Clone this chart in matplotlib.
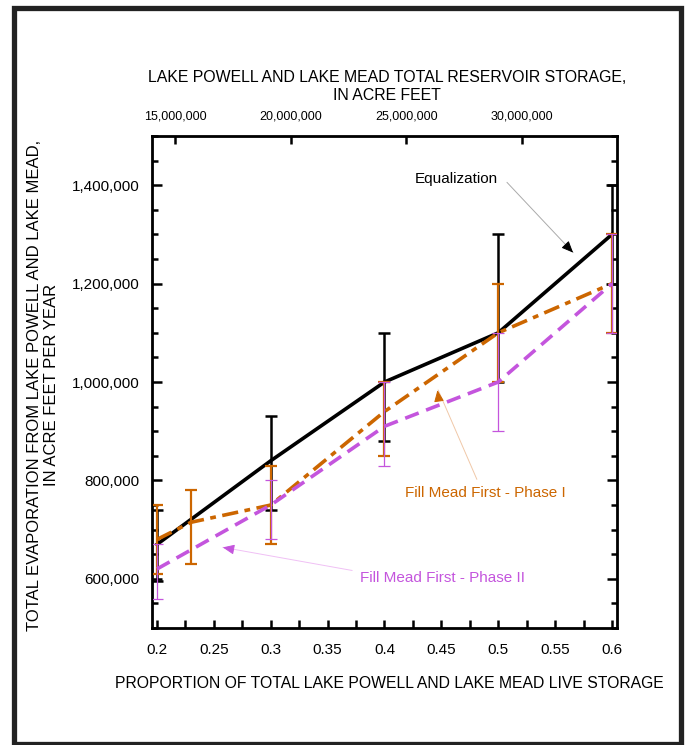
import numpy as np
import matplotlib.pyplot as plt
from matplotlib.patches import Rectangle
from matplotlib.ticker import MultipleLocator, FuncFormatter

plt.rcParams['font.family'] = ['Liberation Sans', 'DejaVu Sans']

# Equalization
eq_x = [0.2, 0.3, 0.4, 0.5, 0.6]
eq_y = [670000, 840000, 1000000, 1100000, 1300000]
eq_lo = [595000, 740000, 880000, 1000000, 1200000]
eq_hi = [740000, 930000, 1100000, 1300000, 1400000]

# Fill Mead First - Phase I
p1_x = [0.2, 0.23, 0.3, 0.4, 0.5, 0.6]
p1_y = [680000, 715000, 750000, 940000, 1100000, 1200000]
p1_lo = [610000, 630000, 670000, 850000, 1000000, 1100000]
p1_hi = [750000, 780000, 830000, 1000000, 1200000, 1300000]

# Fill Mead First - Phase II
p2_x = [0.2, 0.3, 0.4, 0.5, 0.6]
p2_y = [620000, 750000, 910000, 1000000, 1200000]
p2_lo = [560000, 680000, 830000, 900000, 1100000]
p2_hi = [670000, 800000, 1000000, 1100000, 1300000]

top_ticks = [15000000, 20000000, 25000000, 30000000]

BLACK = '#000000'
ORANGE = '#CC6600'
PURPLE = '#C455DD'


def err(y, lo, hi):
    y = np.array(y)
    return [y - np.array(lo), np.array(hi) - y]


fig = plt.figure(figsize=(6.85, 7.45), dpi=100)
ax = fig.add_axes([0.2219, 0.1570, 0.6788, 0.6604])

ax.errorbar(eq_x, eq_y, yerr=err(eq_y, eq_lo, eq_hi), color=BLACK, lw=2.6,
            elinewidth=1.8, capsize=4, capthick=1.8, zorder=3)
ax.errorbar(p1_x, p1_y, yerr=err(p1_y, p1_lo, p1_hi), color=ORANGE, lw=2.6,
            elinewidth=1.6, capsize=4, capthick=1.6, zorder=4,
            dashes=(4.5, 1.8, 1.6, 1.8))
ax.errorbar(p2_x, p2_y, yerr=err(p2_y, p2_lo, p2_hi), color=PURPLE, lw=2.6,
            elinewidth=0.9, capsize=4, capthick=0.9, zorder=5,
            dashes=(4, 2.2))

ax.set_xlim(0.1956, 0.6044)
ax.set_ylim(500000, 1500000)
ax.xaxis.set_major_locator(MultipleLocator(0.05))
ax.xaxis.set_minor_locator(MultipleLocator(0.025))
ax.yaxis.set_major_locator(MultipleLocator(200000))
ax.yaxis.set_minor_locator(MultipleLocator(50000))
ax.xaxis.set_major_formatter(FuncFormatter(lambda v, p: ('%.2f' % v).rstrip('0')))
ax.yaxis.set_major_formatter(FuncFormatter(lambda v, p: '{:,.0f}'.format(v)))
ax.tick_params(which='both', direction='in', right=True, width=1.8, labelsize=11)
ax.tick_params(which='major', length=7)
ax.tick_params(which='minor', length=4)
ax.tick_params(axis='y', which='major', pad=9)
ax.tick_params(axis='x', which='both', length=6, pad=11)
for s in ax.spines.values():
    s.set_linewidth(2)

ax2 = ax.twiny()
ax2.set_xlim(14006000, 34110000)
ax2.set_xticks(top_ticks)
ax2.set_xticklabels(['{:,}'.format(t) for t in top_ticks], fontsize=9)
ax2.tick_params(direction='in', length=6, width=1.8, pad=10)
ax2.xaxis.set_minor_locator(plt.NullLocator())

fig.text(0.565, 0.884, 'LAKE POWELL AND LAKE MEAD TOTAL RESERVOIR STORAGE,\nIN ACRE FEET',
         ha='center', va='center', fontsize=11.4, linespacing=1.25)
fig.text(0.063, 0.483, 'TOTAL EVAPORATION FROM LAKE POWELL AND LAKE MEAD,\nIN ACRE FEET PER YEAR',
         ha='center', va='center', rotation=90, fontsize=12, linespacing=1.15)
fig.text(0.569, 0.083, 'PROPORTION OF TOTAL LAKE POWELL AND LAKE MEAD LIVE STORAGE',
         ha='center', va='center', fontsize=11.3)

# annotations
ax.text(0.463, 1412000, 'Equalization', ha='center', va='center', fontsize=11, color=BLACK)
ax.annotate('', xy=(0.5675, 1259000), xytext=(0.506, 1410000),
            arrowprops=dict(arrowstyle='-', color='#aaaaaa', lw=0.7))
ax.annotate('', xy=(0.5675, 1259000), xytext=(0.560, 1277000),
            arrowprops=dict(arrowstyle='-|>,head_length=0.7,head_width=0.3',
                            color=BLACK, lw=0.7))

ax.text(0.4884, 775000, 'Fill Mead First - Phase I', ha='center', va='center',
        fontsize=11, color=ORANGE)
ax.annotate('', xy=(0.4462, 989000), xytext=(0.4822, 797000),
            arrowprops=dict(arrowstyle='-', color='#f0c8a8', lw=0.7))
ax.annotate('', xy=(0.4462, 989000), xytext=(0.4475, 968000),
            arrowprops=dict(arrowstyle='-|>,head_length=0.7,head_width=0.3',
                            color=ORANGE, lw=0.7))

ax.text(0.4514, 602000, 'Fill Mead First - Phase II', ha='center', va='center',
        fontsize=11, color=PURPLE)
ax.annotate('', xy=(0.2554, 665000), xytext=(0.374, 616000),
            arrowprops=dict(arrowstyle='-', color='#f0c0f5', lw=0.7))
ax.annotate('', xy=(0.2554, 665000), xytext=(0.2655, 660500),
            arrowprops=dict(arrowstyle='-|>,head_length=0.7,head_width=0.3',
                            color=PURPLE, lw=0.7))

# page frame
fig.patches.append(Rectangle((13.5 / 685, 1.5 / 745), 667 / 685, 736 / 745,
                             transform=fig.transFigure, fill=False,
                             edgecolor='#222222', lw=3.8))

fig.savefig('out.png', dpi=100)
